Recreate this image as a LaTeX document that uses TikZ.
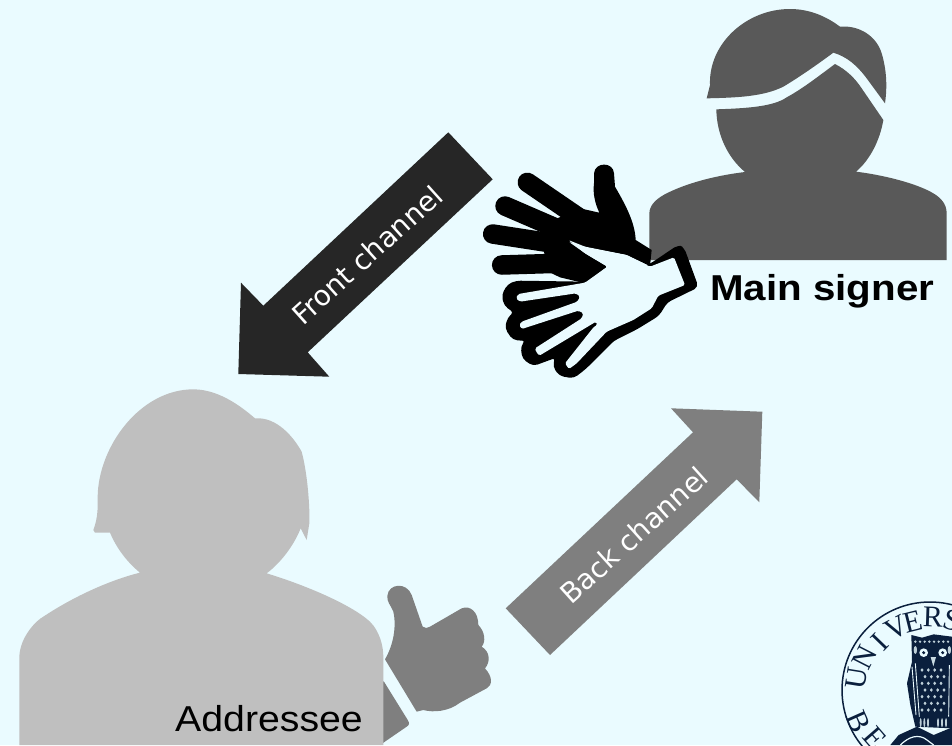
\documentclass[tikz,border=0pt]{standalone}
\usepackage{fontspec}
\setmainfont{Liberation Sans}
\newfontfamily\arrowfont{DejaVu Sans}
\newfontfamily\sealfont{Liberation Serif}
\definecolor{bgc}{HTML}{EAFBFF}
\definecolor{man}{HTML}{595959}
\definecolor{wom}{HTML}{BFBFBF}
\definecolor{dk}{HTML}{262626}
\definecolor{gr}{HTML}{7F7F7F}
\definecolor{navy}{HTML}{0A1F3D}
\tikzset{
  zoomed/.style 2 args={shift={(#1,#2)},x=0.33333pt,y=-0.33333pt},
  mainlabel/.style={anchor=base west,inner sep=0pt,text=black,xscale=1.12,transform shape},
  addrlabel/.style={anchor=base west,inner sep=0pt,text=black,xscale=1.09,transform shape},
  arrowlabel/.style={text=white,inner sep=0pt,font=\arrowfont\fontsize{28}{32}\selectfont},
  seal/.style={text=navy,inner sep=0pt,font=\sealfont\fontsize{30}{34}\selectfont},
  finger/.style={draw=black,line width=19.5pt,line cap=round},
  feather/.style={fill=bgc,opacity=.8}
}
\begin{document}
\begin{tikzpicture}[x=1pt,y=-1pt]
\useasboundingbox (0,0) rectangle (952,745);
\clip (0,0) rectangle (952,745);
\fill[bgc] (0,0) rectangle (952,745);

% seal
\draw[navy,line width=1.5pt] (930,690) circle (88);
\node[seal,rotate=81] (s1) at (857,678) {U};
\node[seal,rotate=63] (s2) at (865,657) {N};
\node[seal,rotate=46] (s3) at (880,642) {I};
\node[seal,rotate=28] (s4) at (897,628) {V};
\node[seal,rotate=14] (s5) at (913,622) {E};
\node[seal,rotate=-2] (s6) at (933,617) {R};
\node[seal,rotate=-16] (s7) at (952,620) {S};
\node[seal,rotate=-66] (s8) at (858,722) {B};
\node[seal,rotate=-49] (s9) at (875,738) {E};
\begin{scope}[zoomed={892}{625}]
  \fill[navy] (58,30) -- (90,38) -- (125,28) -- (180,35) -- (180,310) -- (70,305) -- (55,240) -- (45,175) -- (60,110) -- cycle;
  \draw[bgc,line width=.9pt] (60,125) -- (72,270);
  \draw[bgc,line width=.9pt] (70,115) -- (82,275);
  \draw[bgc,line width=.9pt] (172,120) -- (170,275);
  \foreach \x in {70,84,98,112,126,140,154,168} \fill[feather] (\x,50) ellipse (4 and 4);
  \foreach \x in {70,172} \fill[feather] (\x,75) ellipse (5 and 12);
  \fill[bgc] (95,83) circle (13); \fill[navy] (95,83) circle (5);
  \fill[bgc] (152,83) circle (13); \fill[navy] (152,83) circle (5);
  \fill[bgc!85!navy] (116,96) -- (132,96) -- (124,124) -- cycle;
  \foreach \y/\s in {135/0,155/1,175/0,195/1,215/0,235/1,255/0}
    \foreach \x in {90,109,128,147}
      \fill[feather] ({\x+\s*9},\y) ellipse (4.5 and 5.5);
  \foreach \x in {86,97,108,138,150,162} \fill[feather] (\x,293) ellipse (3 and 14);
  \fill[navy] (-5,360) -- (20,330) -- (75,305) -- (125,330) -- (185,305) -- (185,360) -- cycle;
  \draw[bgc,line width=1.2pt] (25,360) .. controls (50,335) and (80,325) .. (105,345) -- (125,360);
\end{scope}

% main signer
\begin{scope}[zoomed={640}{0}]
  \fill[man] (28,780) -- (28,640) .. controls (28,610) and (60,590) .. (80,580) .. controls (150,545) and (240,525) .. (315,516)
    .. controls (260,470) and (230,400) .. (229,328) .. controls (320,325) and (400,320) .. (440,292)
    .. controls (490,265) and (540,225) .. (585,192) .. controls (620,210) and (645,235) .. (665,265) -- (730,360)
    .. controls (720,420) and (690,480) .. (648,515) .. controls (730,525) and (830,550) .. (880,580)
    .. controls (900,592) and (920,610) .. (920,640) -- (920,780) -- cycle;
  \fill[man] (200,295) -- (210,255) .. controls (205,130) and (320,27) .. (450,27) .. controls (510,27) and (560,50) .. (600,80)
    .. controls (660,75) and (710,110) .. (725,160) .. controls (740,210) and (742,260) .. (735,310)
    -- (680,235) .. controls (650,195) and (620,170) .. (580,158) .. controls (530,195) and (480,230) .. (430,260)
    .. controls (370,290) and (290,293) .. (200,295) -- cycle;
\end{scope}

% signing hands
\begin{scope}[zoomed={470}{150}]
  \draw[finger] (172,97) -- (330,205);
  \draw[finger] (105,168) -- (260,235);
  \draw[finger] (68,252) -- (250,280);
  \draw[finger] (95,345) -- (260,340);
  \fill[black] (372,100) .. controls (368,130) and (375,160) .. (388,188) -- (330,175) -- (262,205) -- (215,248) -- (222,305)
    -- (235,365) -- (270,382) -- (345,400) -- (412,350) -- (345,310) -- (295,275) -- (340,290) -- (470,315) -- (540,348) -- (545,300) -- (497,270)
    .. controls (495,220) and (470,170) .. (435,110) -- (432,70) .. controls (430,35) and (375,35) .. (372,70) -- cycle;
  \fill[black,draw=black,line width=2pt,line join=round,rounded corners=4pt] (540,345) -- (625,288) -- (640,295) -- (682,410) -- (590,455) -- (565,495) -- (500,535)
    -- (430,570) -- (345,655) -- (310,682) -- (270,675) -- (252,650) -- (258,620) -- (190,645) -- (160,625) -- (155,590) -- (170,570)
    -- (130,567) -- (108,535) -- (115,505) -- (135,487) -- (105,465) -- (98,435) -- (115,405) -- (140,395) -- (345,398) -- cycle;
  \fill[bgc,rounded corners=1.5pt] (295,270) -- (345,290) -- (470,315) -- (540,350) -- (612,322) -- (645,405) -- (565,437) -- (545,475)
    -- (490,510) -- (410,545) -- (320,640) -- (297,657) -- (285,640) -- (372,530) -- (382,525) -- (378,515)
    -- (208,617) -- (198,605) -- (195,595) -- (335,505) -- (340,490) -- (325,482) -- (155,537) -- (148,525) -- (155,515)
    -- (322,455) -- (330,440) -- (318,430) -- (150,455) -- (138,445) -- (145,432) -- (345,398) -- (412,350) -- (345,310) -- cycle;
\end{scope}

% addressee
\begin{scope}[zoomed={370}{570}]
  \fill[gr] (30,330) -- (42,335) -- (112,448) .. controls (120,460) and (118,465) .. (110,470) -- (30,525) -- cycle;
  \fill[gr] (45,268) .. controls (70,225) and (80,170) .. (70,125) .. controls (62,105) and (50,95) .. (52,78)
    .. controls (55,40) and (110,35) .. (125,75) -- (158,170) .. controls (165,176) and (172,174) .. (180,170) -- (275,115)
    .. controls (300,105) and (325,125) .. (325,165) .. controls (345,185) and (348,215) .. (335,230)
    .. controls (360,245) and (362,275) .. (345,295) .. controls (368,320) and (368,345) .. (350,355)
    -- (270,398) .. controls (235,425) and (190,428) .. (160,420) -- (140,425) -- cycle;
\end{scope}
\begin{scope}[zoomed={0}{380}]
  \fill[wom] (58,1095) -- (58,830) .. controls (60,770) and (110,720) .. (130,710) .. controls (220,650) and (330,600) .. (420,578)
    .. controls (380,545) and (350,505) .. (330,458) -- (285,458) -- (280,450) .. controls (295,410) and (293,380) .. (293,350)
    .. controls (295,200) and (420,28) .. (580,28) .. controls (660,28) and (730,85) .. (765,115)
    .. controls (830,110) and (880,170) .. (905,215) .. controls (925,290) and (930,400) .. (928,430) -- (920,480) -- (902,445)
    .. controls (880,500) and (840,550) .. (800,580) .. controls (900,610) and (1050,670) .. (1110,725)
    .. controls (1140,755) and (1150,800) .. (1150,830) -- (1150,1095) -- cycle;
\end{scope}

% channel arrows
\fill[dk] (448.3,132.3) -- (492.7,179.3) -- (307.7,352.3) -- (329.3,376.7) -- (238.3,374) -- (241,282.7) -- (263.3,305.7) -- cycle;
\fill[gr] (505.7,608.3) -- (550,655) -- (736.7,479.3) -- (759.3,502.3) -- (762.3,411.7) -- (671,408.3) -- (693,432.3) -- cycle;
\node[arrowlabel,rotate=42] (front) at (367,255) {Front channel};
\node[arrowlabel,rotate=42] (back) at (634,535) {Back channel};

\node[mainlabel,font=\bfseries\fontsize{36}{40}\selectfont] (main) at (710,300) {Main signer};
\node[addrlabel,font=\fontsize{36}{40}\selectfont] (addr) at (175,731) {Addressee};
\end{tikzpicture}
\end{document}
